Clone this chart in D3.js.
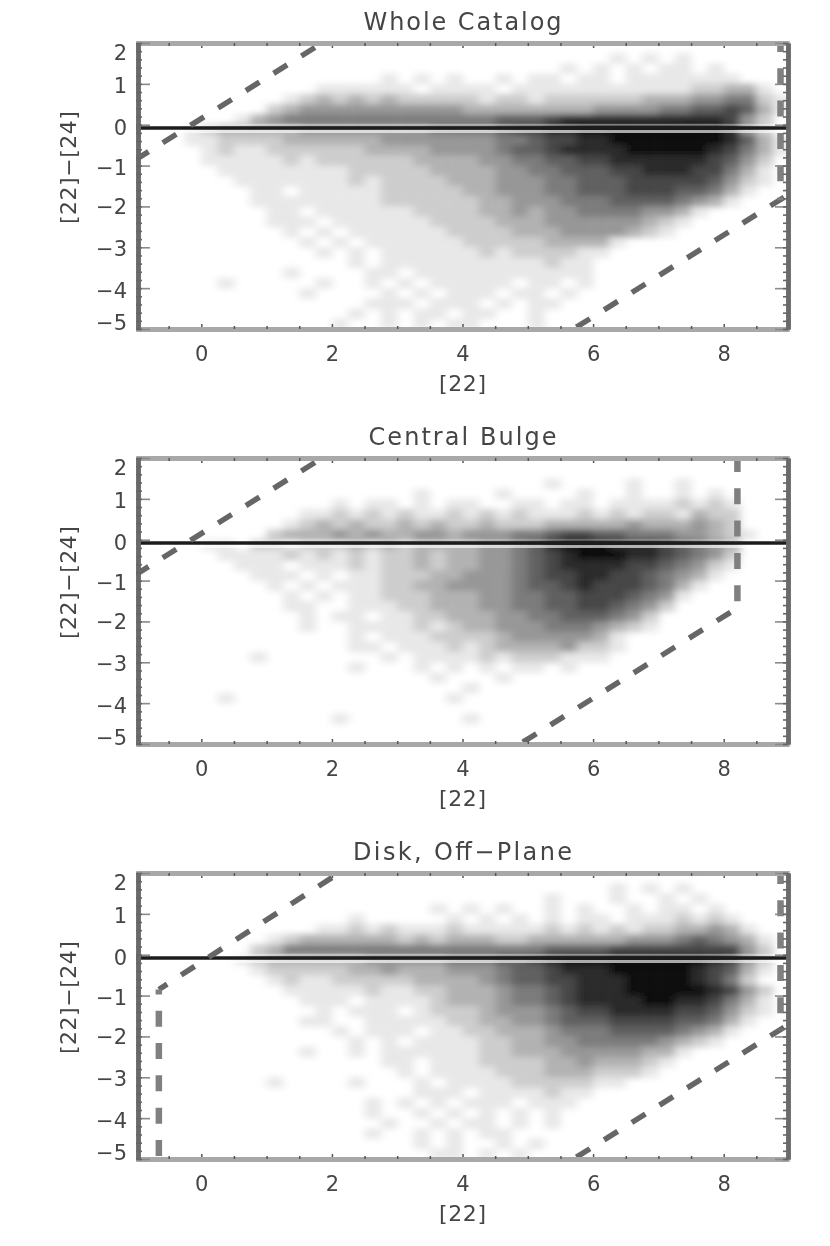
<!DOCTYPE html>
<html>
<head>
<meta charset="utf-8">
<script src="https://d3js.org/d3.v7.min.js"></script>
<style>
body { margin: 0; background: #fff; }
text { font-family: "DejaVu Sans", sans-serif; fill: #454545; }
</style>
</head>
<body>
<div id="chart-area"></div>
<script>
// darkness of each bin, 0 = white, 9 = black
// one string per row from y = 2 down to y = -5 (bin 0.25), groups = one unit of x from -1 to 9
var wholeRows = [
  "0000 0000 0000 0000 0000 0000 0000 0000 0000 0000",
  "0000 0000 0000 0000 0000 0000 0000 0101 0100 0000",
  "0000 0000 0000 0000 0000 0000 0010 1010 1101 0000",
  "0000 0000 0000 0001 0101 0010 1101 1011 1111 1000",
  "0000 0000 0001 1111 1011 1101 1111 1111 1122 3310",
  "0000 0000 0123 2323 2222 2122 1222 2223 3344 5521",
  "0000 0000 2344 4444 4444 3333 3333 4444 5566 7631",
  "0000 0013 4555 5555 5555 5566 6788 8888 8888 7420",
  "0001 2333 3344 4444 4455 5567 7889 9999 9999 8420",
  "0001 1222 2333 3334 4444 4455 6778 8999 9999 8631",
  "0000 1211 2222 2233 3344 4456 6788 8899 9998 7531",
  "0000 1111 1212 2222 2333 3445 5667 7888 8887 6420",
  "0000 0111 1111 1222 2233 3344 5566 6778 8877 5310",
  "0000 0011 1111 1212 2223 3344 4556 6677 7776 4210",
  "0000 0001 1011 1112 2222 3344 4556 6677 7665 3100",
  "0000 0001 1111 1112 2222 2334 4455 5666 6543 1000",
  "0000 0000 1101 1111 1222 2334 3445 5554 4310 0000",
  "0000 0000 1110 1111 1122 2233 3444 4443 2100 0000",
  "0000 0000 0101 0111 1112 2223 3344 4432 1000 0000",
  "0000 0000 0010 1011 1111 2222 2333 3100 0000 0000",
  "0000 0000 0001 0101 1111 1212 2221 1000 0000 0000",
  "0000 0000 0000 0101 1111 1111 1211 0000 0000 0000",
  "0000 0000 0100 0011 0111 1111 1111 0000 0000 0000",
  "0000 0100 0001 0010 1011 1110 1101 0000 0000 0000",
  "0000 0000 0010 0001 0101 1101 1010 0000 0000 0000",
  "0000 0000 0000 0011 1011 1010 1100 0000 0000 0000",
  "0000 0000 0000 0101 0110 1100 1000 0000 0000 0000",
  "0000 0000 0000 1001 0101 1000 1000 0000 0000 0000"
];

var bulgeRows = [
  "0000 0000 0000 0000 0000 0000 0000 0000 0000 0000",
  "0000 0000 0000 0000 0000 0000 0000 0000 0000 0000",
  "0000 0000 0000 0000 0000 0000 0100 0010 0100 0000",
  "0000 0000 0000 0000 0100 0010 0001 0010 0101 0000",
  "0000 0000 0000 1011 0101 1001 1011 0111 1212 1000",
  "0000 0000 0011 2121 2112 1212 1112 1212 2132 2000",
  "0000 0000 0123 2322 3232 2322 2333 3343 3343 2000",
  "0000 0000 2333 4343 3443 4445 5677 6655 5443 2100",
  "0000 1102 2122 2323 2333 3445 6899 9888 7654 3000",
  "0000 0111 1212 1212 2323 3445 6789 9988 7654 2000",
  "0000 0011 1011 1212 2323 3445 6788 8877 6542 1000",
  "0000 0001 1101 0112 2233 4445 6778 8776 5431 0000",
  "0000 0000 1010 1112 2334 4445 6678 7776 5310 0000",
  "0000 0000 0101 0112 2233 3445 5667 7765 4100 0000",
  "0000 0000 0110 0111 2233 3445 5667 7654 2000 0000",
  "0000 0000 0010 1101 1223 3344 5566 6542 0000 0000",
  "0000 0000 0010 0111 1212 3344 4555 4321 0000 0000",
  "0000 0000 0000 0101 1122 2234 4444 3100 0000 0000",
  "0000 0000 0000 0110 1112 1233 3342 2100 0000 0000",
  "0000 0001 0000 0001 0111 1212 2211 1000 0000 0000",
  "0000 0000 0000 0100 0101 0101 1010 0000 0000 0000",
  "0000 0000 0000 0000 0010 0010 0000 0000 0000 0000",
  "0000 0000 0000 0000 0000 1000 0000 0000 0000 0000",
  "0000 0100 0000 0000 0001 0000 0000 0000 0000 0000",
  "0000 0000 0000 0000 0000 0000 0000 0000 0000 0000",
  "0000 0000 0000 1000 0000 1000 0000 0000 0000 0000",
  "0000 0000 0000 0000 0000 0000 0000 0000 0000 0000",
  "0000 0000 0000 0000 0000 0000 0000 0000 0000 0000"
];

var diskRows = [
  "0000 0000 0000 0000 0000 0000 0000 0000 0000 0000",
  "0000 0000 0000 0000 0000 0000 0000 0101 0100 0000",
  "0000 0000 0000 0000 0000 0000 0100 0100 1010 0000",
  "0000 0000 0000 0000 0010 1010 0101 0010 1101 0000",
  "0000 0000 0000 0100 0001 0101 0101 1011 1212 1000",
  "0000 0000 0001 1212 1112 1111 1212 1212 2334 3100",
  "0000 0000 1233 3333 2323 3322 3333 3344 4565 4310",
  "0000 0002 3555 5555 5555 5555 5666 6777 7777 7420",
  "0000 0012 3333 3344 4445 5566 7899 9999 9998 7420",
  "0000 0001 2222 2334 3334 4456 6788 8999 9987 6310",
  "0000 0000 1211 2222 2333 3456 6778 8899 9987 5200",
  "0000 0000 0111 1121 1223 3345 5678 8899 9998 7420",
  "0000 0000 0011 1011 1123 3345 5678 8889 9887 5310",
  "0000 0000 0001 0111 0122 2344 4567 7888 8776 4210",
  "0000 0000 0011 0011 1112 2334 4566 6777 7665 3100",
  "0000 0000 0000 1011 1011 2233 3455 5666 6543 1000",
  "0000 0000 0000 0101 0111 1223 3445 5555 4321 0000",
  "0000 0000 0010 0101 1111 1223 3344 4443 3100 0000",
  "0000 0000 0000 0001 1011 1222 2334 3332 1000 0000",
  "0000 0000 0000 0000 1011 1122 2333 2221 0000 0000",
  "0000 0000 1000 0100 0101 1112 2222 1100 0000 0000",
  "0000 0000 0000 0000 0111 0111 1211 0000 0000 0000",
  "0000 0000 0000 0010 1010 1110 1110 0000 0000 0000",
  "0000 0000 0000 0010 0101 0101 0100 0000 0000 0000",
  "0000 0000 0000 0001 0010 1101 0100 0000 0000 0000",
  "0000 0000 0000 0010 0101 0110 0000 0000 0000 0000",
  "0000 0000 0000 0000 0101 0010 1000 0000 0000 0000",
  "0000 0000 0000 0000 0011 0101 0000 0000 0000 0000"
];

var panelTitles = ["Whole Catalog", "Central Bulge", "Disk, Off\u2212Plane"];
var panelRows = [wholeRows, bulgeRows, diskRows];
var xTicks = [0, 2, 4, 6, 8];
var xMinorTicks = [-0.5, 0.5, 1, 1.5, 2.5, 3, 3.5, 4.5, 5, 5.5, 6.5, 7, 7.5, 8.5];
var yTicks = [2, 1, 0, -1, -2, -3, -4, -5];
var yMinorTicks = d3.range(-5, 2.01, 0.2);

// dashed selection lines, [x, y] end points in data units
var upperCut = [[1.85, 2], [-1, -0.85]];
var upperCutDisk = [[2.11, 2], [-0.65, -0.85]];
var lowerCutWide = [[5.7, -5], [9, -1.7]];
var lowerCutBulge = [[4.88, -5], [8.2, -1.68]];
var rightEdgeWide = [[8.87, 2], [8.87, -1.85]];
var rightEdgeBulge = [[8.21, 2], [8.21, -1.68]];
var leftEdgeDisk = [[-0.65, -0.85], [-0.65, -5]];

var panelDiagonals = [
  [upperCut, lowerCutWide],
  [upperCut, lowerCutBulge],
  [upperCutDisk, lowerCutWide]
];
var panelVerticals = [
  [{ line: rightEdgeWide, offset: 7 }],
  [{ line: rightEdgeBulge, offset: 2 }],
  [{ line: rightEdgeWide, offset: 5 }, { line: leftEdgeDisk, offset: 11 }]
];

var margin = { left: 136, top: 43 },
    width = 653,
    height = 286,
    panelStep = 415;

var binX = 0.25, binY = 0.25;

var svg = d3.select("#chart-area").append("svg")
    .attr("width", 830)
    .attr("height", 1246)
    .style("display", "block")
    .style("filter", "blur(0.55px)");

var defs = svg.append("defs");
defs.append("filter")
    .attr("id", "soft")
    .attr("x", "-5%").attr("y", "-5%")
    .attr("width", "110%").attr("height", "110%")
  .append("feGaussianBlur")
    .attr("stdDeviation", "4.5 3");
defs.append("clipPath")
    .attr("id", "plot-clip")
  .append("rect")
    .attr("width", width)
    .attr("height", height);

var x = d3.scaleLinear().domain([-1, 9]).range([0, width]);
var y = d3.scaleLinear().domain([2, -5]).range([0, height]);
var grey = d3.scaleLinear().domain([0, 1, 9]).range(["#ffffff", "#e8e8e8", "#101010"]);

var lineGen = d3.line()
    .x(function(d) { return x(d[0]); })
    .y(function(d) { return y(d[1]); });

panelRows.forEach(function(rows, p) {
    var g = svg.append("g")
        .attr("transform", "translate(" + margin.left + "," + (margin.top + p * panelStep) + ")");

    // Density bins
    var cells = [];
    rows.forEach(function(row, r) {
        row.replace(/ /g, "").split("").forEach(function(v, c) {
            if (+v > 0) cells.push({ x0: -1 + c * binX, y0: 2 - r * binY, v: +v });
        });
    });

    var clip = g.append("g").attr("clip-path", "url(#plot-clip)");

    clip.append("g")
        .attr("filter", "url(#soft)")
        .selectAll("rect")
        .data(cells)
        .enter().append("rect")
            .attr("x", function(d) { return x(d.x0); })
            .attr("y", function(d) { return y(d.y0); })
            .attr("width", x(binX) - x(0) + 0.5)
            .attr("height", y(0) - y(binY) + 0.5)
            .attr("fill", function(d) { return grey(d.v); });

    // Band around zero
    clip.append("line")
        .attr("x1", 0).attr("x2", width)
        .attr("y1", y(0.0)).attr("y2", y(0.0))
        .attr("stroke", "#fff").attr("stroke-opacity", p === 1 ? 0.25 : 0.4)
        .attr("stroke-width", 2);
    clip.append("line")
        .attr("x1", 0).attr("x2", width)
        .attr("y1", y(-0.165)).attr("y2", y(-0.165))
        .attr("stroke", "#fff").attr("stroke-opacity", 0.65)
        .attr("stroke-width", 3);
    clip.append("line")
        .attr("x1", 0).attr("x2", width)
        .attr("y1", y(-0.08)).attr("y2", y(-0.08))
        .attr("stroke", "#1c1c1c")
        .attr("stroke-width", 3.5);

    // Dashed cuts
    panelDiagonals[p].forEach(function(line, i) {
        clip.append("path")
            .attr("d", lineGen(line))
            .attr("fill", "none")
            .attr("stroke", "#666")
            .attr("stroke-width", 5.5)
            .attr("stroke-dasharray", "16,16.7")
            .attr("stroke-dashoffset", i === 0 ? -8.5 : -3.4);
    });
    panelVerticals[p].forEach(function(d) {
        clip.append("path")
            .attr("d", lineGen(d.line))
            .attr("fill", "none")
            .attr("stroke", "#808080")
            .attr("stroke-width", 6.5)
            .attr("stroke-dasharray", "16,16.3")
            .attr("stroke-dashoffset", d.offset);
    });

    // X axes, thin grey frame with short ticks
    var bottomMajor = g.append("g")
        .attr("transform", "translate(0," + height + ")")
        .call(d3.axisBottom(x).tickValues(xTicks).tickFormat(d3.format("d")).tickSizeInner(-5).tickSizeOuter(0).tickPadding(17));
    var bottomMinor = g.append("g")
        .attr("transform", "translate(0," + height + ")")
        .call(d3.axisBottom(x).tickValues(xMinorTicks).tickSizeInner(-3).tickSizeOuter(0).tickFormat(""));
    var topMajor = g.append("g")
        .call(d3.axisTop(x).tickValues(xTicks).tickSizeInner(-5).tickSizeOuter(0).tickFormat(""));
    var topMinor = g.append("g")
        .call(d3.axisTop(x).tickValues(xMinorTicks).tickSizeInner(-3).tickSizeOuter(0).tickFormat(""));

    // Y axes
    var leftMajor = g.append("g")
        .call(d3.axisLeft(y).tickValues(yTicks).tickFormat(d3.format("d")).tickSizeInner(-14).tickSizeOuter(0).tickPadding(9));
    var leftMinor = g.append("g")
        .call(d3.axisLeft(y).tickValues(yMinorTicks).tickSizeInner(-6).tickSizeOuter(0).tickFormat(""));
    var rightMajor = g.append("g")
        .attr("transform", "translate(" + (width - 1) + ",0)")
        .call(d3.axisRight(y).tickValues(yTicks).tickSizeInner(-13).tickSizeOuter(0).tickFormat(""));
    var rightMinor = g.append("g")
        .attr("transform", "translate(" + (width - 1) + ",0)")
        .call(d3.axisRight(y).tickValues(yMinorTicks).tickSizeInner(-5).tickSizeOuter(0).tickFormat(""));

    [bottomMajor, bottomMinor, topMajor, topMinor].forEach(function(a) {
        a.select(".domain").attr("stroke", "#a8a8a8").attr("stroke-width", 5);
        a.selectAll(".tick line").attr("stroke", "#555").attr("stroke-width", 1.5);
    });
    [leftMajor, leftMinor, rightMajor, rightMinor].forEach(function(a) {
        a.select(".domain").attr("stroke", "#6a6a6a").attr("stroke-width", 4.5);
        a.selectAll(".tick line").attr("stroke", "#8a8a8a").attr("stroke-width", 1.6);
    });
    leftMajor.select(".domain").attr("transform", "translate(2,0)");
    leftMinor.select(".domain").attr("transform", "translate(2,0)");
    [leftMinor, rightMinor].forEach(function(a) {
        a.selectAll(".tick line").attr("stroke", "#666");
    });

    // Tick labels
    bottomMajor.attr("font-family", null);
    bottomMajor.selectAll("text")
        .attr("font-size", 21).attr("fill", null);

    var labelNudge = [9, 1, 2, 1, 0, 1, 2, -7];
    leftMajor.attr("font-family", null);
    leftMajor.selectAll("text")
        .attr("font-size", 21).attr("fill", null)
        .attr("dy", function(d, i) { return (labelNudge[i] + 7.5) + "px"; });

    // Title
    g.append("text")
        .attr("x", x(4))
        .attr("y", -13)
        .attr("font-size", 24)
        .attr("text-anchor", "middle")
        .attr("textLength", [198, 188, 219][p])
        .text(panelTitles[p]);

    // X label
    g.append("text")
        .attr("x", x(4))
        .attr("y", height + 62)
        .attr("font-size", 22)
        .attr("text-anchor", "middle")
        .attr("textLength", 47)
        .text("[22]");

    // Y label
    g.append("text")
        .attr("x", -(y(-1.05)))
        .attr("y", -60)
        .attr("font-size", 22)
        .attr("text-anchor", "middle")
        .attr("textLength", 113)
        .attr("transform", "rotate(-90)")
        .text("[22]\u2212[24]");
});
</script>
</body>
</html>
